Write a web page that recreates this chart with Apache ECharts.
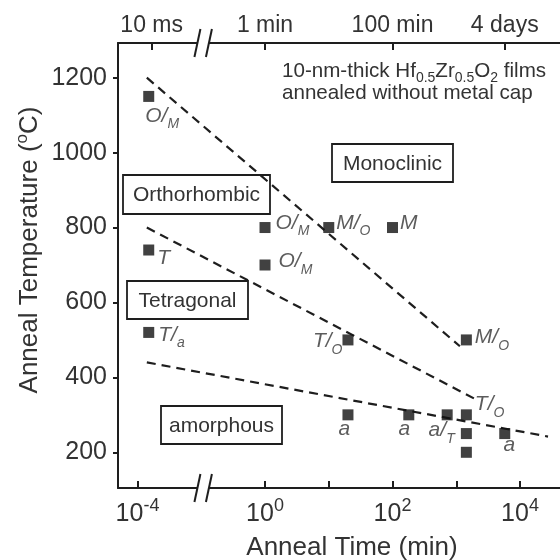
<!DOCTYPE html>
<html>
<head>
<meta charset="utf-8">
<script src="https://cdn.jsdelivr.net/npm/echarts@6/dist/echarts.min.js"></script>
<style>
  html, body { margin: 0; padding: 0; background: #fff; }
  #chart { width: 560px; height: 560px; }
</style>
</head>
<body>
<div id="chart"></div>
<script>
// ---- measured films: anneal time (min), anneal temperature (°C), phase label ----
const times = [1.5e-4, 1.5e-4, 1.5e-4, 1, 1, 10, 100, 20, 1440, 20, 180, 720, 1440, 1440, 1440, 5760];
const temps = [1150, 740, 520, 800, 700, 800, 800, 500, 500, 300, 300, 300, 300, 250, 200, 250];
const phaseMain = ['O/', 'T', 'T/', 'O/', 'O/', 'M/', 'M', 'T/', 'M/', 'a', 'a', 'a/', 'T/', '', '', 'a'];
const phaseSub  = ['M', '', 'a', 'M', 'M', 'O', '', 'O', 'O', '', '', 'T', 'O', '', '', ''];

// ---- dashed phase boundaries: [time (min), temperature (°C)] end points ----
const boundaryMono = [[1.4e-4, 1200], [1140, 483]];
const boundaryOrtho = [[1.4e-4, 800], [1890, 344]];
const boundaryAmorph = [[1.4e-4, 440], [27500, 242]];

// ---- axis ticks ----
const timeTicks = [1e-4, 1, 10, 100, 1000, 1e4];
const timeTickLabels = [1e-4, 1, 100, 1e4];
const topTickTimes = [1 / 6000, 1, 100, 5760];
const topTickLabels = ['10 ms', '1 min', '100 min', '4 days'];
const tempTicks = [200, 400, 600, 800, 1000, 1200];

// ---- region names ----
const regionNames = ['Monoclinic', 'Orthorhombic', 'Tetragonal', 'amorphous'];
const noteLines = ['10-nm-thick Hf{b|0.5}Zr{b|0.5}O{b|2} films', 'annealed without metal cap'];

// ---- broken log time axis ----
const SKIPPED_DECADES = 2;   // decades removed by the // break
const BREAK_POS = -0.97;     // axis position of the break marks
function axisPos(t) {
  const L = Math.log10(t);
  return L < -2 ? L + SKIPPED_DECADES : L;
}
function logOf(p) { return p < BREAK_POS ? p - SKIPPED_DECADES : p; }

const FONT = "'Liberation Sans', Arial, Helvetica, sans-serif";
const INK = '#1e1e1e';
const TEXT = '#333';

// label placement per point: [dx, dy, align] from the marker box corner
const labelPlace = [
  [2, 25, 'left'], [14, 14, 'left'], [15, 8, 'left'], [16, 1, 'left'],
  [19, 2, 'left'], [13, 1, 'left'], [13, 1, 'left'], [0, 7, 'right'],
  [14, 3, 'left'], [2, 20, 'center'], [1, 20, 'center'], [13, 21, 'right'],
  [14, -5, 'left'], null, null, [10, 17, 'center']
];

const phaseRich = {
  m: { fontFamily: FONT, fontSize: 21, fontStyle: 'italic', color: TEXT, lineHeight: 31 },
  s: { fontFamily: FONT, fontSize: 14, fontStyle: 'italic', color: TEXT, lineHeight: 14, padding: [17, 0, 0, 0] }
};

const points = times.map((t, i) => {
  const place = labelPlace[i];
  const txt = phaseMain[i] ? '{m|' + phaseMain[i] + '}' + (phaseSub[i] ? '{s|' + phaseSub[i] + '}' : '') : '';
  return {
    value: [axisPos(t), temps[i]],
    label: place ? {
      show: true, position: [place[0], place[1]], align: place[2], verticalAlign: 'middle',
      formatter: txt, rich: phaseRich
    } : { show: false }
  };
});

function boundarySeries(pts) {
  return {
    type: 'line', data: pts.map(p => [axisPos(p[0]), p[1]]),
    symbol: 'none', silent: true, z: 1, animation: false,
    lineStyle: { color: INK, width: 2.2, type: [9, 6] }
  };
}

const supLabel = (v) => {
  const e = Math.round(logOf(v));
  return '{b|10}{e|' + (e < 0 ? '-' + (-e) : e) + '}';
};

const chart = echarts.init(document.getElementById('chart'), null, { renderer: 'canvas' });

const axisLineStyle = { color: INK, width: 2 };

chart.setOption({
  animation: false,
  backgroundColor: '#fff',
  grid: { left: 118, right: 0, top: 43, bottom: 72 },
  xAxis: [
    {
      type: 'value', position: 'bottom', min: -2.306, max: 4.627,
      splitLine: { show: false },
      axisLine: { onZero: false, lineStyle: axisLineStyle },
      axisTick: { inside: true, length: 7, lineStyle: { color: INK, width: 2 }, customValues: timeTicks.map(axisPos) },
      axisLabel: {
        customValues: timeTickLabels.map(axisPos), margin: 10, color: TEXT,
        formatter: supLabel,
        rich: {
          b: { fontFamily: FONT, fontSize: 25, color: TEXT, lineHeight: 32 },
          e: { fontFamily: FONT, fontSize: 18, color: TEXT, lineHeight: 16, padding: [0, 0, 16, 0] }
        }
      }
    },
    {
      type: 'value', position: 'top', min: -2.306, max: 4.627,
      splitLine: { show: false },
      axisLine: { onZero: false, lineStyle: axisLineStyle },
      axisTick: { inside: true, length: 7, lineStyle: { color: INK, width: 2 }, customValues: topTickTimes.map(axisPos) },
      axisLabel: {
        customValues: topTickTimes.map(axisPos), margin: 6, color: TEXT,
        fontFamily: FONT, fontSize: 23, lineHeight: 23,
        formatter: (v) => {
          const pos = topTickTimes.map(axisPos);
          let k = 0;
          pos.forEach((p, i) => { if (Math.abs(p - v) < Math.abs(pos[k] - v)) k = i; });
          return topTickLabels[k];
        }
      }
    }
  ],
  yAxis: {
    type: 'value', min: 104.7, max: 1292.6,
    splitLine: { show: false },
    axisLine: { onZero: false, lineStyle: axisLineStyle },
    axisTick: { inside: false, length: 5, lineStyle: { color: INK, width: 2 }, customValues: tempTicks },
    axisLabel: {
      customValues: tempTicks, margin: 11, color: TEXT, fontFamily: FONT, fontSize: 25,
      formatter: (v) => String(Math.round(v))
    }
  },
  series: [
    boundarySeries(boundaryMono),
    boundarySeries(boundaryOrtho),
    boundarySeries(boundaryAmorph),
    {
      type: 'scatter', data: points, symbol: 'rect', symbolSize: 11, z: 3,
      itemStyle: { color: '#111' }, silent: true
    }
  ]
});

// ---- decorations: axis break marks, titles, region boxes, note ----
const bx = chart.convertToPixel({ xAxisIndex: 0 }, BREAK_POS);
const yBottom = chart.convertToPixel({ yAxisIndex: 0 }, 104.7);
const yTop = chart.convertToPixel({ yAxisIndex: 0 }, 1292.6);

function breakMark(y) {
  const half = 5.75, h = 14, dx = 3;
  return [
    { type: 'rect', shape: { x: bx - half, y: y - 3, width: half * 2, height: 6 }, style: { fill: '#fff' }, z: 50 },
    { type: 'line', shape: { x1: bx - half - dx, y1: y + h, x2: bx - half + dx, y2: y - h }, style: { stroke: INK, lineWidth: 2 }, z: 51 },
    { type: 'line', shape: { x1: bx + half - dx, y1: y + h, x2: bx + half + dx, y2: y - h }, style: { stroke: INK, lineWidth: 2 }, z: 51 }
  ];
}

function regionBox(name, x, y, w, h) {
  return {
    type: 'group', z: 40,
    children: [
      { type: 'rect', shape: { x: x, y: y, width: w, height: h }, style: { fill: '#fff', stroke: INK, lineWidth: 1.8 } },
      { type: 'text', x: x + w / 2, y: y + h / 2 + 1, style: { text: name, fontFamily: FONT, fontSize: 21, fill: TEXT, align: 'center', verticalAlign: 'middle' } }
    ]
  };
}

chart.setOption({
  graphic: [
    ...breakMark(yBottom),
    ...breakMark(yTop),
    regionBox(regionNames[0], 332, 144, 121, 38),
    regionBox(regionNames[1], 123, 175, 147, 39),
    regionBox(regionNames[2], 127, 281, 121, 38),
    regionBox(regionNames[3], 161, 406, 121, 38),
    {
      type: 'text', x: 282, y: 71, z: 40,
      style: {
        text: '{n|' + noteLines[0].replace(/\{b\|([^}]*)\}/g, '}{b|$1}{n|') + '}',
        align: 'left', verticalAlign: 'middle',
        rich: {
          n: { fontFamily: FONT, fontSize: 20.6, fill: TEXT, lineHeight: 30 },
          b: { fontFamily: FONT, fontSize: 14, fill: TEXT, lineHeight: 14, padding: [14, 0, 0, 0] }
        }
      }
    },
    {
      type: 'text', x: 282, y: 93, z: 40,
      style: { text: noteLines[1], fontFamily: FONT, fontSize: 20.6, fill: TEXT, align: 'left', verticalAlign: 'middle' }
    },
    {
      type: 'text', x: 352, y: 548, z: 40,
      style: { text: 'Anneal Time (min)', fontFamily: FONT, fontSize: 26, fill: TEXT, align: 'center', verticalAlign: 'middle' }
    },
    {
      type: 'text', x: 30, y: 250, rotation: Math.PI / 2, z: 40,
      style: {
        text: '{t|Anneal Temperature (}{o|o}{t|C)}', align: 'center', verticalAlign: 'middle',
        rich: {
          t: { fontFamily: FONT, fontSize: 26, fill: TEXT, lineHeight: 32 },
          o: { fontFamily: FONT, fontSize: 17, fill: TEXT, lineHeight: 17, padding: [0, 0, 15, 0] }
        }
      }
    }
  ]
});
</script>
</body>
</html>
